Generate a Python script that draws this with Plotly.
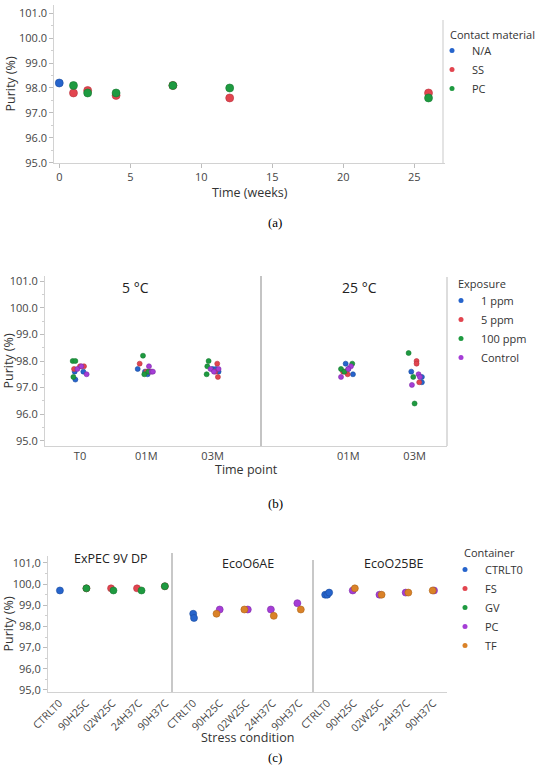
import plotly.graph_objects as go

# ---------------- data: panel (a) ----------------
a_series = ["N/A", "SS", "PC"]
a_weeks_na = [0]
a_purity_na = [98.2]
a_weeks_ss = [1, 2, 4, 8, 12, 26]
a_purity_ss = [97.8, 97.9, 97.7, 98.1, 97.6, 97.8]
a_weeks_pc = [1, 2, 4, 8, 12, 26]
a_purity_pc = [98.1, 97.8, 97.8, 98.1, 98.0, 97.6]
a_xticks = [0, 5, 10, 15, 20, 25]

y_ticks = [95, 96, 97, 98, 99, 100, 101]
y_ticklabels_comma = ["95,0", "96,0", "97,0", "98,0", "99,0", "100,0", "101,0"]

# ---------------- data: panel (b) ----------------
b_exposures = ["1 ppm", "5 ppm", "100 ppm", "Control"]
b_facets = ["5 °C", "25 °C"]
b_times_5C = ["T0", "01M", "03M"]
b_times_25C = ["01M", "03M"]
b_slot_facet = ["5 °C"] * 9 + ["25 °C"] * 6
b_slot_time = ["T0"] * 3 + ["01M"] * 3 + ["03M"] * 3 + ["01M"] * 3 + ["03M"] * 3
b_purity_1ppm = [97.6, 97.6, 97.3, 97.7, 97.6, 97.5, 97.7, 97.6, 97.7, 97.9, 97.5, 97.7, 97.6, 97.4, 97.2]
b_jitter_1ppm = [-0.08, 0.05, -0.07, -0.13, -0.02, 0.02, 0.0, 0.09, 0.05, -0.04, 0.07, 0.0, -0.05, 0.11, 0.11]
b_purity_5ppm = [97.8, 97.8, 97.7, 97.9, 97.6, 97.6, 97.9, 97.6, 97.4, 97.6, 97.5, 97.6, 98.0, 97.9, 97.2]
b_jitter_5ppm = [0.0, 0.06, -0.09, -0.1, 0.0, 0.05, 0.07, 0.04, 0.08, -0.08, -0.01, -0.04, 0.03, 0.03, 0.07]
b_purity_100ppm = [98.0, 98.0, 97.4, 98.2, 97.5, 97.6, 98.0, 97.8, 97.5, 97.9, 97.7, 97.6, 98.3, 97.4, 96.4]
b_jitter_100ppm = [-0.11, -0.07, -0.10, -0.05, -0.03, 0.03, -0.06, -0.08, -0.09, 0.06, -0.11, -0.06, -0.09, -0.02, 0.0]
b_purity_ctrl = [97.7, 97.8, 97.5, 97.8, 97.6, 97.6, 97.7, 97.7, 97.6, 97.8, 97.7, 97.4, 97.5, 97.4, 97.1]
b_jitter_ctrl = [-0.04, 0.02, 0.10, 0.04, 0.08, 0.10, -0.03, 0.09, 0.02, 0.04, 0.0, -0.11, 0.06, 0.08, -0.04]

# ---------------- data: panel (c) ----------------
c_containers = ["CTRLT0", "FS", "GV", "PC", "TF"]
c_products = ["ExPEC 9V DP", "EcoO6AE", "EcoO25BE"]
c_conditions = ["CTRLT0", "90H25C", "02W25C", "24H37C", "90H37C"]
c_ctrlt0_product = ["ExPEC 9V DP", "EcoO6AE", "EcoO6AE", "EcoO25BE", "EcoO25BE", "EcoO25BE"]
c_ctrlt0_condition = ["CTRLT0"] * 6
c_ctrlt0_purity = [99.7, 98.6, 98.4, 99.5, 99.5, 99.6]
c_ctrlt0_jitter = [0.02, 0.0, 0.03, -0.08, 0.0, 0.07]
c_fs_product = ["ExPEC 9V DP"] * 4
c_fs_condition = ["90H25C", "02W25C", "24H37C", "90H37C"]
c_fs_purity = [99.8, 99.8, 99.8, 99.9]
c_fs_jitter = [0.02, -0.05, -0.07, -0.02]
c_gv_product = ["ExPEC 9V DP"] * 4
c_gv_condition = ["90H25C", "02W25C", "24H37C", "90H37C"]
c_gv_purity = [99.8, 99.7, 99.7, 99.9]
c_gv_jitter = [0.02, 0.04, 0.10, -0.02]
c_pc_product = ["EcoO6AE"] * 4 + ["EcoO25BE"] * 4
c_pc_condition = ["90H25C", "02W25C", "24H37C", "90H37C"] * 2
c_pc_purity = [98.8, 98.8, 98.8, 99.1, 99.7, 99.5, 99.6, 99.7]
c_pc_jitter = [0.0, 0.06, -0.07, -0.07, -0.04, -0.03, -0.04, 0.03]
c_tf_product = ["EcoO6AE"] * 4 + ["EcoO25BE"] * 4
c_tf_condition = ["90H25C", "02W25C", "24H37C", "90H37C"] * 2
c_tf_purity = [98.6, 98.8, 98.5, 98.8, 99.8, 99.5, 99.6, 99.7]
c_tf_jitter = [-0.12, -0.07, 0.04, 0.06, 0.04, 0.05, 0.06, -0.02]

# ---------------- styling ----------------
BLUE, RED, GREEN, PURPLE, ORANGE = "#2664CC", "#E2454F", "#1E9A40", "#A53DD6", "#DA8228"
EDGE = {BLUE: "#1A4C9E", RED: "#B83440", GREEN: "#157A30", PURPLE: "#7F2CA8", ORANGE: "#AE6418"}
FONT = "Open Sans"
SERIF = "Liberation Serif"
TICKC = "#454545"
LINEC = "#d2d2d2"
W, H = 550, 770


def xp(px):
    return px / W


def yp(py):
    return 1 - py / H


fig = go.Figure()


def pts(x, y, color, size, xa, ya):
    fig.add_trace(go.Scatter(
        x=x, y=y, mode="markers", xaxis=xa, yaxis=ya, showlegend=False, hoverinfo="skip",
        marker=dict(color=color, size=size, line=dict(color=EDGE[color], width=0.6)),
    ))


def legend_entry(name, color, legend):
    fig.add_trace(go.Scatter(
        x=[None], y=[None], mode="markers", name=name, legend=legend, xaxis="x", yaxis="y",
        marker=dict(color=color, size=5), showlegend=True, hoverinfo="skip",
    ))


# panel (a)
a_colors = [BLUE, RED, GREEN]
for xs, ys, col in zip([a_weeks_na, a_weeks_ss, a_weeks_pc], [a_purity_na, a_purity_ss, a_purity_pc], a_colors):
    pts(xs, ys, col, 8, "x", "y")

# panel (b)
b_colors = [BLUE, RED, GREEN, PURPLE]
b_purities = [b_purity_1ppm, b_purity_5ppm, b_purity_100ppm, b_purity_ctrl]
b_jitters = [b_jitter_1ppm, b_jitter_5ppm, b_jitter_100ppm, b_jitter_ctrl]
for pur, jit, col in zip(b_purities, b_jitters, b_colors):
    for facet, times, xa in [(b_facets[0], b_times_5C, "x2"), (b_facets[1], b_times_25C, "x3")]:
        xs, ys = [], []
        for f, t, v, j in zip(b_slot_facet, b_slot_time, pur, jit):
            if f == facet:
                xs.append(times.index(t) + j)
                ys.append(v)
        pts(xs, ys, col, 5, xa, "y2")

# panel (c)
c_colors = [BLUE, RED, GREEN, PURPLE, ORANGE]
c_sets = [
    (c_ctrlt0_product, c_ctrlt0_condition, c_ctrlt0_purity, c_ctrlt0_jitter),
    (c_fs_product, c_fs_condition, c_fs_purity, c_fs_jitter),
    (c_gv_product, c_gv_condition, c_gv_purity, c_gv_jitter),
    (c_pc_product, c_pc_condition, c_pc_purity, c_pc_jitter),
    (c_tf_product, c_tf_condition, c_tf_purity, c_tf_jitter),
]
c_axes = ["x4", "x5", "x6"]
for (prod, cond, pur, jit), col in zip(c_sets, c_colors):
    for product, xa in zip(c_products, c_axes):
        xs, ys = [], []
        for p, c, v, j in zip(prod, cond, pur, jit):
            if p == product:
                xs.append(c_conditions.index(c) + j)
                ys.append(v)
        if xs:
            pts(xs, ys, col, 7, xa, "y3")

# legends
for name, col in zip(a_series, a_colors):
    legend_entry(name, col, "legend")
for name, col in zip(b_exposures, b_colors):
    legend_entry(name, col, "legend2")
for name, col in zip(c_containers, c_colors):
    legend_entry(name, col, "legend3")

tickfont = dict(family=FONT, size=11, color=TICKC)
titlefont = dict(family=FONT, size=12.5, color="#333")


def yaxis_common(dom, rng, anchor, labels=None, standoff=4):
    d = dict(
        domain=[yp(dom[1]), yp(dom[0])], range=rng, anchor=anchor, automargin=False,
        showline=True, linecolor=LINEC, linewidth=1, showgrid=False, zeroline=False,
        tickvals=y_ticks, ticks="outside", ticklen=4, tickcolor="#bdbdbd",
        minor=dict(dtick=0.5, ticks="outside", ticklen=2, tickcolor="#cfcfcf", showgrid=False),
        tickfont=tickfont, title=dict(text="Purity (%)", font=titlefont, standoff=standoff),
    )
    if labels is None:
        d["tickformat"] = ".1f"
    else:
        d["ticktext"] = labels
    return d


def xcat(dom, rng, anchor, vals, texts, angle=0, size=11):
    return dict(
        domain=[xp(dom[0]), xp(dom[1])], range=rng, anchor=anchor, automargin=False,
        showline=True, linecolor=LINEC, linewidth=1, showgrid=False, zeroline=False,
        tickvals=vals, ticktext=texts, ticks="", tickangle=angle,
        tickfont=dict(family=FONT, size=size, color=TICKC),
    )


layout = dict(
    template="none",
    width=W, height=H, margin=dict(l=0, r=0, t=0, b=0, pad=0), autosize=False,
    paper_bgcolor="white", plot_bgcolor="white",
    font=dict(family=FONT, color="#333"),
    xaxis=dict(
        domain=[xp(54.3), xp(445)], range=[-0.35, 27.16], anchor="y", automargin=False,
        showline=True, linecolor=LINEC, linewidth=1, showgrid=False, zeroline=False,
        tickvals=a_xticks, ticks="outside", ticklen=4, tickcolor="#bdbdbd", tickfont=tickfont,
        title=dict(text="Time (weeks)", font=titlefont, standoff=3),
    ),
    yaxis=yaxis_common((5, 163), [94.99, 101.33], "x", standoff=0),
    xaxis2=xcat((45, 261), [-0.528, 2.73], "y2", [0, 1, 2], b_times_5C),
    xaxis3=xcat((261, 447), [-1.317, 1.489], "y2", [0, 1], b_times_25C),
    yaxis2=yaxis_common((276, 446), [94.8, 101.2], "x2", standoff=1),
    xaxis4=xcat((48, 172), [-0.43, 4.25], "y3", list(range(5)), c_conditions, -45, 10.5),
    xaxis5=xcat((172, 313), [-0.80, 4.52], "y3", list(range(5)), c_conditions, -45, 10.5),
    xaxis6=xcat((313, 447), [-0.54, 4.52], "y3", list(range(5)), c_conditions, -45, 10.5),
    yaxis3=yaxis_common((556, 692), [94.9, 101.33], "x4", y_ticklabels_comma, standoff=2),
)

leg_common = dict(xanchor="left", yanchor="top", bgcolor="rgba(0,0,0,0)", borderwidth=0,
                  tracegroupgap=0, font=dict(family=FONT, size=11, color="#333"),
                  itemclick=False, itemdoubleclick=False)
layout["legend"] = dict(x=xp(432), y=yp(36), **leg_common)
layout["legend2"] = dict(x=xp(441), y=yp(286), **leg_common)
layout["legend3"] = dict(x=xp(445), y=yp(555), **leg_common)

fig.update_layout(**layout)

ann = []
# x-axis titles for facetted panels (centered under the whole panel)
ann.append(dict(text="Time point", x=xp(246), y=yp(469), xref="paper", yref="paper",
                showarrow=False, font=titlefont, xanchor="center", yanchor="middle"))
ann.append(dict(text="Stress condition", x=xp(247), y=yp(737), xref="paper", yref="paper",
                showarrow=False, font=titlefont, xanchor="center", yanchor="middle"))
# facet headers
for txt, x, y in [(b_facets[0], 135, 287), (b_facets[1], 359, 287)]:
    ann.append(dict(text=txt, x=xp(x), y=yp(y), xref="paper", yref="paper", showarrow=False,
                    font=dict(family=FONT, size=14, color="#222"), xanchor="center", yanchor="middle"))
for txt, x, y in zip(c_products, [111, 248, 394], [558, 563, 563]):
    ann.append(dict(text=txt, x=xp(x), y=yp(y), xref="paper", yref="paper", showarrow=False,
                    font=dict(family=FONT, size=12.5, color="#222"), xanchor="center", yanchor="middle"))
# legend titles
for txt, x, y in [("Contact material", 448, 34), ("Exposure", 456, 283), ("Container", 462, 552)]:
    ann.append(dict(text=txt, x=xp(x), y=yp(y), xref="paper", yref="paper", showarrow=False,
                    font=dict(family=FONT, size=11, color="#333"), xanchor="left", yanchor="middle"))
# panel labels
for txt, y in [("(a)", 222), ("(b)", 503), ("(c)", 757)]:
    ann.append(dict(text=txt, x=0.5, y=yp(y), xref="paper", yref="paper", showarrow=False,
                    font=dict(family=SERIF, size=13, color="black"), xanchor="center", yanchor="middle"))
fig.update_layout(annotations=ann)

# frame / facet separators
shapes = [
    dict(type="line", xref="paper", yref="paper", x0=xp(443), x1=xp(443), y0=yp(20), y1=yp(163),
         line=dict(color=LINEC, width=1.2)),
    dict(type="line", xref="paper", yref="paper", x0=xp(261), x1=xp(261), y0=yp(276), y1=yp(446),
         line=dict(color="#c4c4c4", width=2)),
    dict(type="line", xref="paper", yref="paper", x0=xp(447), x1=xp(447), y0=yp(277), y1=yp(446),
         line=dict(color=LINEC, width=1.5)),
    dict(type="line", xref="paper", yref="paper", x0=xp(172), x1=xp(172), y0=yp(553), y1=yp(692),
         line=dict(color="#c8c8c8", width=2)),
    dict(type="line", xref="paper", yref="paper", x0=xp(313), x1=xp(313), y0=yp(560), y1=yp(692),
         line=dict(color="#c8c8c8", width=2)),
]
fig.update_layout(shapes=shapes)

fig.write_html(
    "out.html",
    config={"displayModeBar": False, "staticPlot": True},
    post_script="document.body.style.margin='0';document.body.style.overflow='hidden';",
)
